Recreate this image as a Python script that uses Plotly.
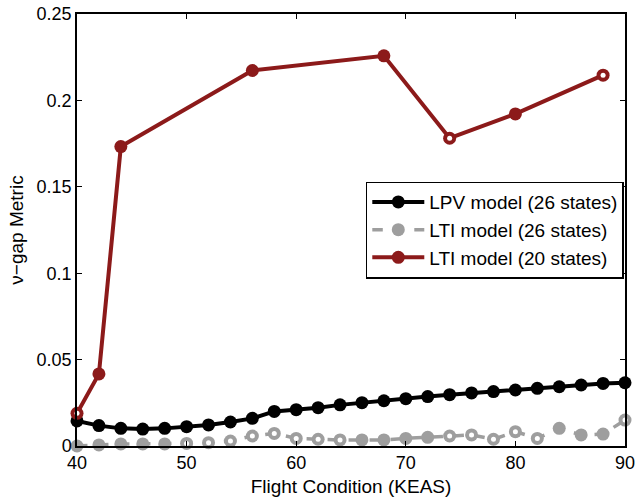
import plotly.graph_objects as go

# Data
x_full = [40, 42, 44, 46, 48, 50, 52, 54, 56, 58, 60, 62, 64, 66, 68, 70, 72, 74, 76, 78, 80, 82, 84, 86, 88, 90]
lpv_26 = [0.0145, 0.0118, 0.0102, 0.0098, 0.0102, 0.0112, 0.0122, 0.0139, 0.0160, 0.0200, 0.0210, 0.0222, 0.0238,
          0.0251, 0.0262, 0.0274, 0.0286, 0.0297, 0.0307, 0.0315, 0.0324, 0.0334, 0.0343, 0.0353, 0.0362, 0.0366]
lti_26 = [0.0000, 0.0006, 0.0012, 0.0012, 0.0012, 0.0015, 0.0019, 0.0029, 0.0058, 0.0073, 0.0044, 0.0039, 0.0035,
          0.0035, 0.0035, 0.0044, 0.0050, 0.0058, 0.0064, 0.0039, 0.0083, 0.0044, 0.0102, 0.0064, 0.0069, 0.0150]
x_red = [40, 42, 44, 56, 68, 74, 80, 88]
lti_20 = [0.0189, 0.0417, 0.1733, 0.2173, 0.2258, 0.1781, 0.1922, 0.2146]

names = ["LPV model (26 states)", "LTI model (26 states)", "LTI model (20 states)"]

GRAY = "#9e9e9e"
RED = "#8c1a1a"
# marker centres that appear white (hollow) in the reference
gray_center = ["rgba(0,0,0,0)"]*5 + ["white"]*8 + ["rgba(0,0,0,0)"]*4 + ["white"]*5 + ["rgba(0,0,0,0)"]*3 + ["white"]
red_center = ["white", "rgba(0,0,0,0)", "rgba(0,0,0,0)", "rgba(0,0,0,0)", "rgba(0,0,0,0)", "white",
              "rgba(0,0,0,0)", "white"]

fig = go.Figure()
fig.add_trace(go.Scatter(x=x_full, y=lpv_26, name=names[0], mode="lines+markers",
                         line=dict(color="black", width=4),
                         marker=dict(symbol="circle", size=13, color="black"),
                         cliponaxis=False))
fig.add_trace(go.Scatter(x=x_full, y=lti_26, name=names[1], mode="lines+markers",
                         line=dict(color=GRAY, width=3.5, dash="dash"),
                         marker=dict(symbol="circle", size=13, color=GRAY),
                         cliponaxis=False))
fig.add_trace(go.Scatter(x=x_full, y=lti_26, mode="markers", showlegend=False, hoverinfo="skip",
                         marker=dict(symbol="circle", size=5, color=gray_center),
                         cliponaxis=False))
fig.add_trace(go.Scatter(x=x_red, y=lti_20, name=names[2], mode="lines+markers",
                         line=dict(color=RED, width=4),
                         marker=dict(symbol="circle", size=13, color=RED),
                         cliponaxis=False))
fig.add_trace(go.Scatter(x=x_red, y=lti_20, mode="markers", showlegend=False, hoverinfo="skip",
                         marker=dict(symbol="circle", size=5, color=red_center),
                         cliponaxis=False))

axis_common = dict(showline=True, linecolor="black", linewidth=1.5, mirror="ticks",
                   ticks="inside", ticklen=5, tickcolor="black", showgrid=False, zeroline=False,
                   automargin=False, tickfont=dict(size=18, color="black"))

fig.update_layout(
    width=636, height=502,
    margin=dict(l=77, r=11, t=14, b=56),
    paper_bgcolor="white", plot_bgcolor="white",
    font=dict(family="Liberation Sans, Arial, sans-serif", color="black"),
    xaxis=dict(range=[40, 90], tickvals=[40, 50, 60, 70, 80, 90],
               title=dict(text="Flight Condition (KEAS)", font=dict(size=19), standoff=7), **axis_common),
    yaxis=dict(range=[0, 0.25], tickvals=[0, 0.05, 0.1, 0.15, 0.2, 0.25],
               ticktext=["0", "0.05", "0.1", "0.15", "0.2", "0.25"],
               title=dict(text="ν−gap Metric", font=dict(size=19), standoff=8), **axis_common),
    legend=dict(x=0.527, y=0.612, xanchor="left", yanchor="top",
                bordercolor="black", borderwidth=1.5, bgcolor="white",
                font=dict(size=19), tracegroupgap=0, itemwidth=52),
    showlegend=True,
)

fig.write_html("out.html")
